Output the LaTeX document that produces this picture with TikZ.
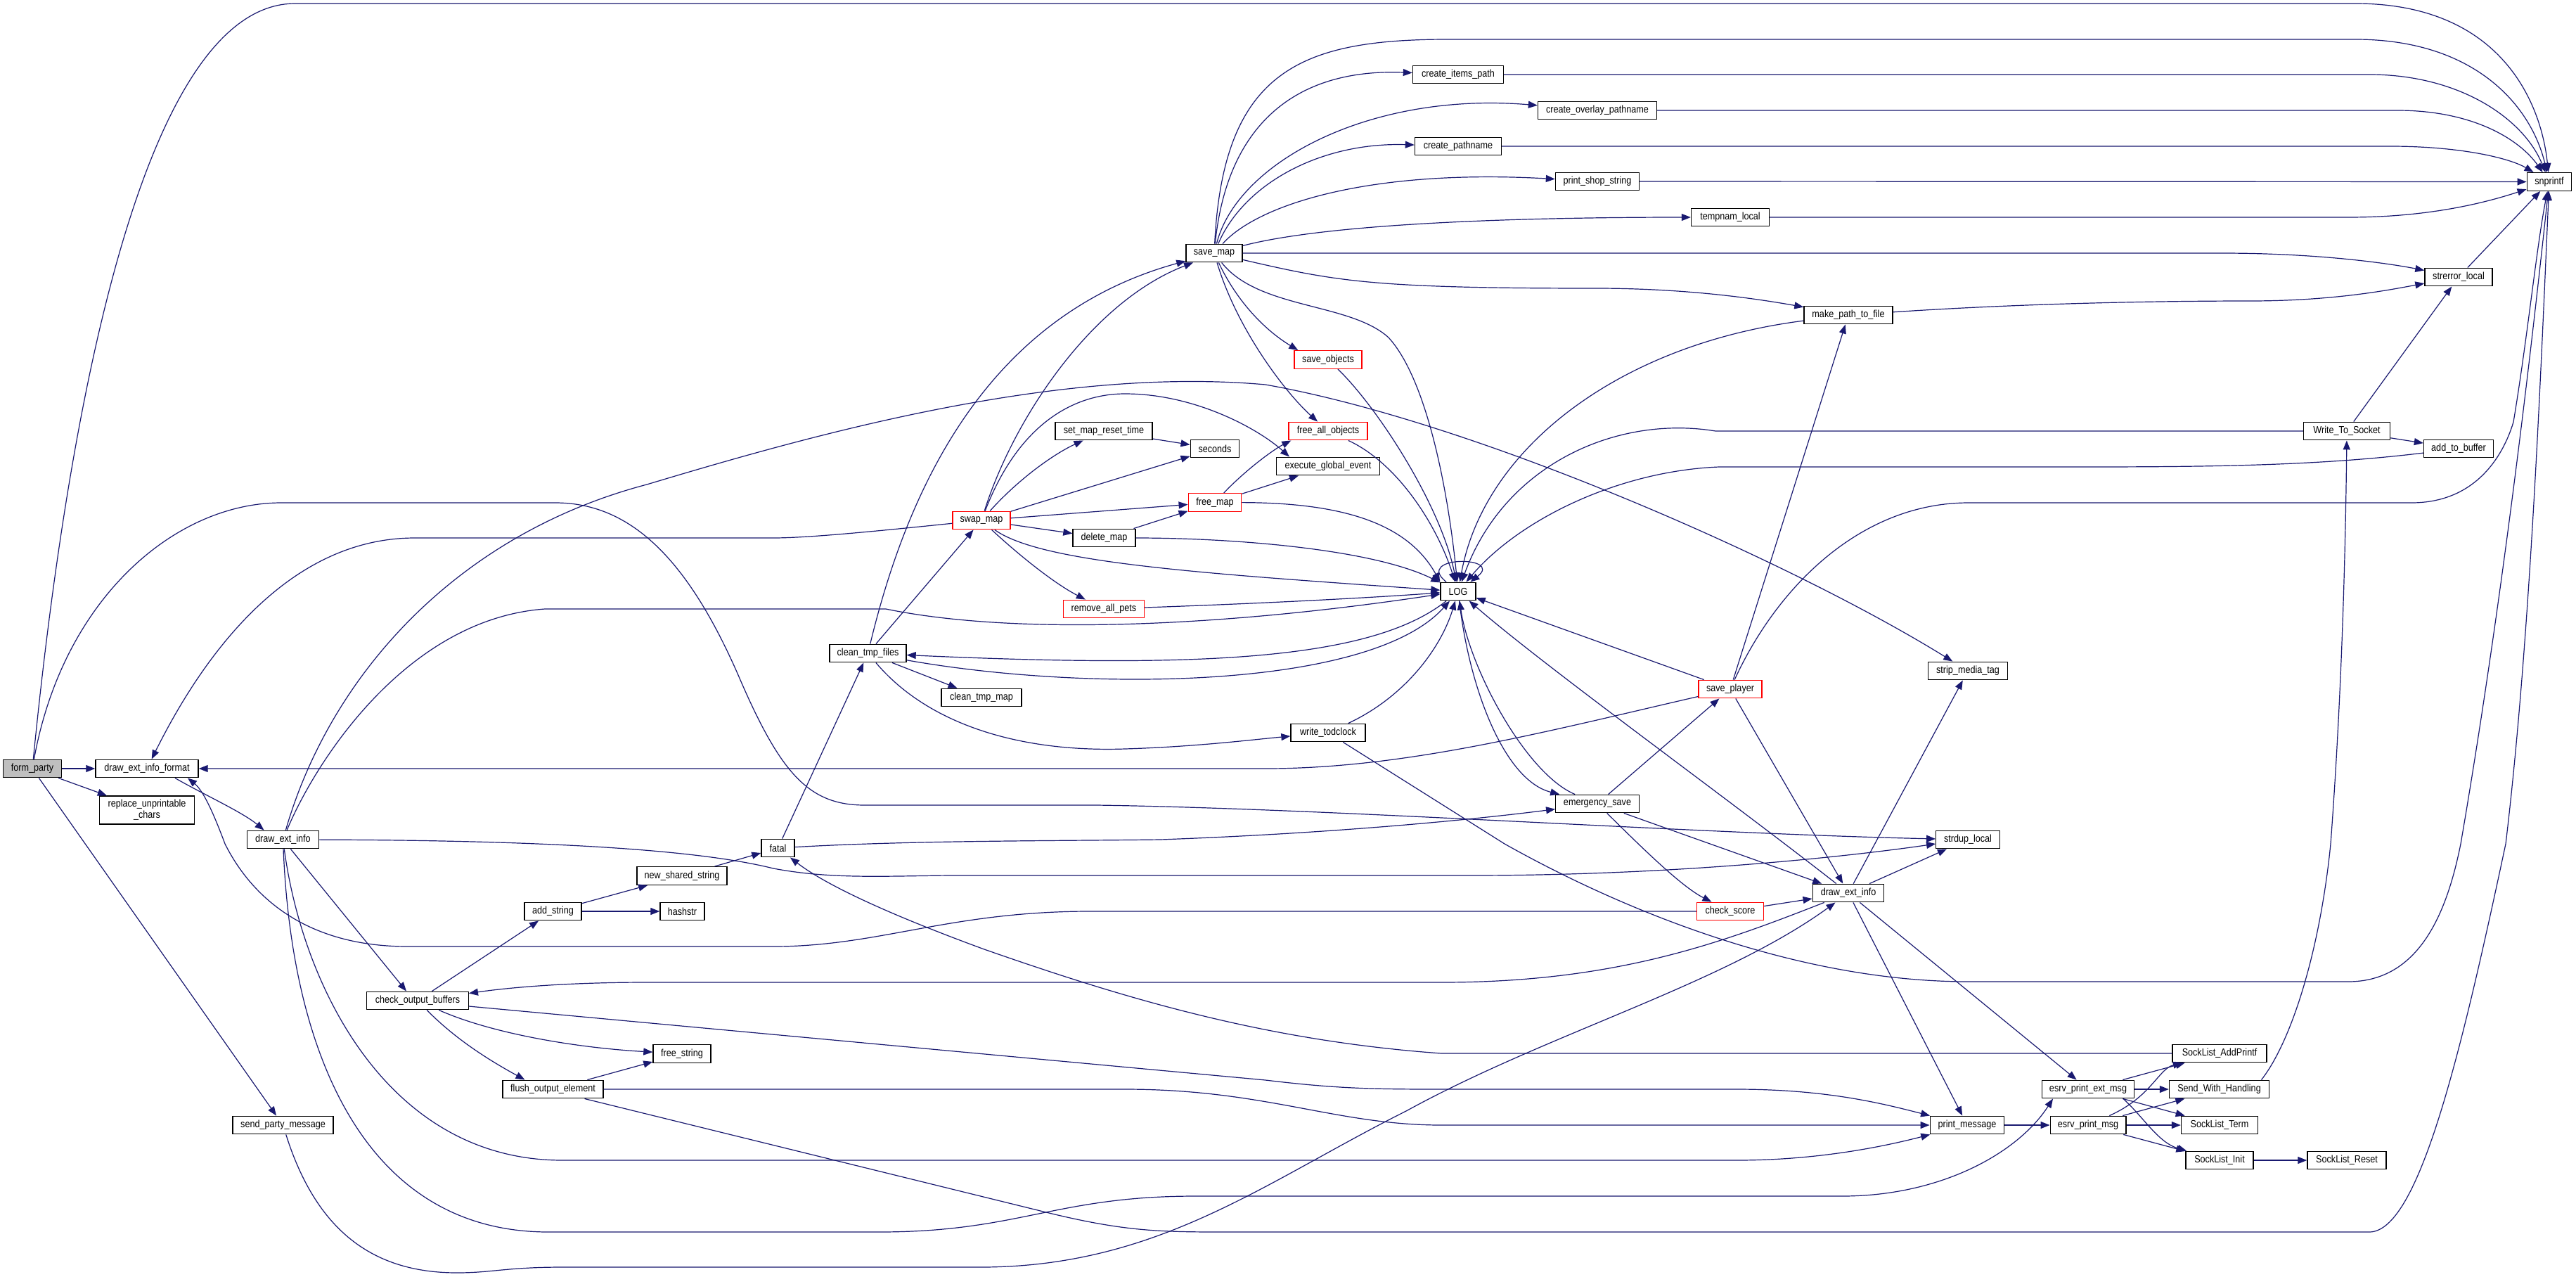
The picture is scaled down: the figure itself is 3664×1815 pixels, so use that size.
\documentclass[tikz,border=0pt]{standalone}
\usepackage{fontspec}
\usepackage{tikz}
\usetikzlibrary{arrows.meta}
\newfontfamily\dxfont{Liberation Sans}[FakeStretch=0.87]
\definecolor{edgeblue}{RGB}{25,25,112}
\definecolor{rootgray}{RGB}{191,191,191}

\begin{document}
\begin{tikzpicture}[
    x=1pt, y=-1pt,
    fn/.style={rectangle, draw=black, line width=1.4pt, fill=white, minimum height=25.5pt, inner sep=0pt, font=\dxfont\fontsize{14.5pt}{16pt}\selectfont},
    fnred/.style={fn, draw=red},
    fnroot/.style={fn, fill=rootgray},
    callto/.style={draw=edgeblue, line width=1.2pt, -{Triangle[length=13pt, width=10pt]}}
]
\path[use as bounding box, fill=white] (0,0) rectangle (3664,1815);

% Nodes
\node[fnroot, minimum width=83pt] (formparty) at (46,1093) {form\_party};
\node[fn, minimum width=146pt] (dxif) at (209,1093) {draw\_ext\_info\_format};
\node[fn, minimum width=135pt, minimum height=40pt, align=center] (replunp) at (209,1152) {replace\_unprintable\\\_chars};
\node[fn, minimum width=102pt] (dxileft) at (402.5,1194) {draw\_ext\_info};
\node[fn, minimum width=143pt] (sendparty) at (402.5,1600) {send\_party\_message};
\node[fn, minimum width=144.5pt] (checkout) at (594,1423) {check\_output\_buffers};
\node[fn, minimum width=81pt] (addstring) at (786.5,1296) {add\_string};
\node[fn, minimum width=143pt] (flushout) at (786.5,1549) {flush\_output\_element};
\node[fn, minimum width=128pt] (newshared) at (970,1245.5) {new\_shared\_string};
\node[fn, minimum width=63pt] (hashstr) at (970.5,1296) {hashstr};
\node[fn, minimum width=82pt] (freestring) at (970,1498.5) {free\_string};
\node[fn, minimum width=47pt] (fatal) at (1106.5,1206) {fatal};
\node[fn, minimum width=109pt] (cleantmp) at (1234.5,929) {clean\_tmp\_files};
\node[fn, minimum width=114pt] (cleanmap) at (1396,992) {clean\_tmp\_map};
\node[fnred, minimum width=82pt] (swapmap) at (1396,740) {swap\_map};
\node[fn, minimum width=138pt] (setreset) at (1570,613) {set\_map\_reset\_time};
\node[fn, minimum width=89pt] (deletemap) at (1570.5,765) {delete\_map};
\node[fnred, minimum width=114.6pt] (removepets) at (1570,866) {remove\_all\_pets};
\node[fn, minimum width=80pt] (savemap) at (1727,360) {save\_map};
\node[fn, minimum width=69.5pt] (seconds) at (1728,638) {seconds};
\node[fnred, minimum width=75.5pt] (freemap) at (1728,714.5) {free\_map};
\node[fnred, minimum width=112pt] (freeall) at (1889,613) {free\_all\_objects};
\node[fn, minimum width=146.5pt] (execglobal) at (1889,663) {execute\_global\_event};
\node[fnred, minimum width=96pt] (saveobjects) at (1889,511.5) {save\_objects};
\node[fn, minimum width=106pt] (writetod) at (1889,1042) {write\_todclock};
\node[fn, minimum width=50pt] (logf) at (2074,841) {LOG};
\node[fn, minimum width=129pt] (itemspath) at (2074,106) {create\_items\_path};
\node[fn, minimum width=123pt] (pathname) at (2074,208) {create\_pathname};
\node[fn, minimum width=169pt] (overlay) at (2272,157) {create\_overlay\_pathname};
\node[fn, minimum width=119pt] (shopstring) at (2272,258) {print\_shop\_string};
\node[fn, minimum width=118.5pt] (emergency) at (2272,1143) {emergency\_save};
\node[fn, minimum width=111pt] (tempnam) at (2461,309) {tempnam\_local};
\node[fnred, minimum width=90pt] (saveplayer) at (2461,980) {save\_player};
\node[fnred, minimum width=95pt] (checkscore) at (2461,1296) {check\_score};
\node[fn, minimum width=126pt] (makepath) at (2629,448) {make\_path\_to\_file};
\node[fn, minimum width=101.5pt] (dxiright) at (2629,1270) {draw\_ext\_info};
\node[fn, minimum width=113.5pt] (stripmedia) at (2799,954) {strip\_media\_tag};
\node[fn, minimum width=90.5pt] (strdup) at (2799,1194) {strdup\_local};
\node[fn, minimum width=105.5pt] (printmsg) at (2798,1600) {print\_message};
\node[fn, minimum width=131pt] (extmsg) at (2970,1549) {esrv\_print\_ext\_msg};
\node[fn, minimum width=107.6pt] (esrvmsg) at (2970,1600) {esrv\_print\_msg};
\node[fn, minimum width=134pt] (addprintf) at (3157,1498) {SockList\_AddPrintf};
\node[fn, minimum width=142pt] (sendhandling) at (3156.5,1549) {Send\_With\_Handling};
\node[fn, minimum width=109pt] (term) at (3157,1600) {SockList\_Term};
\node[fn, minimum width=96pt] (init) at (3157,1650) {SockList\_Init};
\node[fn, minimum width=112pt] (reset) at (3338,1650) {SockList\_Reset};
\node[fn, minimum width=123pt] (writesock) at (3338,613) {Write\_To\_Socket};
\node[fn, minimum width=99pt] (addbuffer) at (3497,638) {add\_to\_buffer};
\node[fn, minimum width=96pt] (strerror) at (3497,394) {strerror\_local};
\node[fn, minimum width=63.5pt] (snprintf) at (3626,258.5) {snprintf};

% Calls from form_party
\draw[callto] (formparty) .. controls (95,600) and (200,5) .. (420,5) -- (3350,5) .. controls (3560,5) and (3615,150) .. (snprintf);
\draw[callto] (formparty) -- (dxif);
\draw[callto] (formparty) -- (replunp);
\draw[callto] (formparty) -- (sendparty);
\draw[callto] (formparty) .. controls (90,850) and (250,715) .. (400,715) -- (790,715) .. controls (900,715) and (980,800) .. (1050,960) .. controls (1110,1100) and (1150,1145) .. (1230,1145) -- (1560,1145) .. controls (1900,1150) and (2400,1185) .. (strdup);

% Into draw_ext_info_format
\draw[callto] (swapmap) .. controls (1250,755) and (1150,765) .. (1100,765) -- (590,765) .. controls (400,765) and (280,950) .. (dxif);
\draw[callto] (saveplayer) .. controls (2200,1040) and (2000,1093) .. (1800,1093) -- (dxif);
\draw[callto] (checkscore) -- (1550,1296) .. controls (1350,1296) and (1250,1346) .. (1100,1346) -- (580,1346) .. controls (420,1346) and (350,1260) .. (320,1200) .. controls (305,1160) and (290,1125) .. ([xshift=58pt]dxif.south);
\draw[callto] ([xshift=40pt]dxif.south) .. controls (290,1130) and (345,1155) .. ([xshift=-27pt]dxileft.north);

% Calls from draw_ext_info (left)
\draw[callto] (dxileft) .. controls (470,960) and (650,760) .. (920,689) .. controls (1150,620) and (1500,520) .. (1800,547) .. controls (2100,600) and (2550,800) .. (stripmedia);
\draw[callto] (dxileft) .. controls (450,1080) and (580,880) .. (775,866) -- (1260,866) .. controls (1450,905) and (1750,890) .. (logf);
\draw[callto] (dxileft) .. controls (800,1195) and (1000,1210) .. (1100,1235) .. controls (1180,1250) and (1250,1246) .. (1350,1245) -- (2090,1245) .. controls (2400,1245) and (2650,1215) .. ([yshift=-6pt]strdup.west);
\draw[callto] (dxileft) -- ([xshift=-16pt]checkout.north);
\draw[callto] (dxileft) .. controls (430,1400) and (550,1650) .. (800,1650) -- (2470,1650) .. controls (2600,1650) and (2700,1625) .. (printmsg);
\draw[callto] (dxileft) .. controls (415,1500) and (520,1752) .. (780,1752) -- (1250,1752) .. controls (1450,1752) and (1500,1701) .. (1700,1701) -- (2620,1701) .. controls (2760,1701) and (2870,1640) .. ([xshift=-50pt]extmsg.south);

% check_output_buffers and friends
\draw[callto] (checkout) -- (addstring);
\draw[callto] (checkout) .. controls (650,1480) and (700,1510) .. ([xshift=-40pt]flushout.north);
\draw[callto] (checkout) .. controls (700,1470) and (820,1490) .. (freestring);
\draw[callto] ([yshift=-8pt]checkout.east) -- (1800,1536) .. controls (1900,1548) and (1950,1549) .. (2050,1549) -- (2470,1549) .. controls (2600,1549) and (2680,1570) .. (printmsg);
\draw[callto] (flushout) -- (freestring);
\draw[callto] (flushout) -- (1600,1549) .. controls (1800,1549) and (1900,1600) .. (2050,1600) -- (printmsg);
\draw[callto] ([xshift=45pt]flushout.south) -- (1480,1722) .. controls (1600,1752) and (1650,1752) .. (1750,1752) -- (3370,1752) .. controls (3440,1752) and (3500,1500) .. (3564,1200) .. controls (3600,900) and (3615,500) .. (snprintf);
\draw[callto] (addstring) -- (newshared);
\draw[callto] (addstring) -- (hashstr);
\draw[callto] (newshared) -- (fatal);

% fatal
\draw[callto] (fatal) -- (cleantmp);
\draw[callto] (fatal) .. controls (1300,1195) and (1500,1196) .. (1650,1194) .. controls (1900,1185) and (2100,1165) .. (emergency);
\draw[callto] (addprintf) -- (2050,1498) .. controls (1800,1480) and (1600,1420) .. (1400,1350) .. controls (1250,1295) and (1170,1255) .. (fatal);

% clean_tmp_files
\draw[callto] (cleantmp) .. controls (1290,700) and (1400,450) .. (savemap);
\draw[callto] (cleantmp) -- (swapmap);
\draw[callto] (cleantmp) -- (cleanmap);
\draw[callto] (cleantmp) .. controls (1320,1030) and (1450,1070) .. (1600,1065) .. controls (1700,1062) and (1780,1052) .. (writetod);
\draw[callto] (cleantmp) .. controls (1550,985) and (1950,980) .. (logf);
\draw[callto] (logf) .. controls (1950,940) and (1700,950) .. (cleantmp);

% swap_map
\draw[callto] (swapmap) .. controls (1440,600) and (1550,430) .. ([xshift=-30pt]savemap.south);
\draw[callto] (swapmap) .. controls (1450,600) and (1530,560) .. (1600,560) .. controls (1700,560) and (1790,610) .. ([xshift=-55pt]execglobal.north);
\draw[callto] (swapmap) .. controls (1450,680) and (1500,645) .. (setreset);
\draw[callto] (swapmap) -- (seconds);
\draw[callto] (swapmap) -- (freemap);
\draw[callto] (swapmap) -- (deletemap);
\draw[callto] (swapmap) .. controls (1450,790) and (1500,830) .. (removepets);
\draw[callto] (swapmap) .. controls (1480,800) and (1700,815) .. (logf);
\draw[callto] (setreset) -- (seconds);
\draw[callto] (deletemap) -- (freemap);
\draw[callto] (deletemap) .. controls (1750,765) and (1950,780) .. (logf);
\draw[callto] (freemap) .. controls (1770,670) and (1810,640) .. ([xshift=4pt]freeall.south west);
\draw[callto] (freemap) -- (execglobal);
\draw[callto] (freemap) .. controls (1900,715) and (2000,740) .. (logf.north west);
\draw[callto] (removepets) .. controls (1800,858) and (1950,850) .. (logf);

% save_map
\draw[callto] (savemap) .. controls (1740,100) and (1850,56) .. (2060,56) -- (3350,56) .. controls (3520,56) and (3600,150) .. (snprintf);
\draw[callto] (savemap) .. controls (1745,180) and (1840,97) .. (itemspath);
\draw[callto] (savemap) .. controls (1760,230) and (1950,130) .. (overlay);
\draw[callto] (savemap) .. controls (1770,260) and (1880,202) .. (pathname);
\draw[callto] (savemap) .. controls (1790,290) and (1950,240) .. (shopstring);
\draw[callto] (savemap) .. controls (1900,315) and (2200,309) .. (tempnam);
\draw[callto] (savemap) -- (3160,360) .. controls (3300,360) and (3400,375) .. (strerror);
\draw[callto] (savemap) .. controls (1900,400) and (1950,410) .. (2270,410) .. controls (2400,410) and (2500,425) .. (makepath);
\draw[callto] (savemap) .. controls (1790,440) and (1920,430) .. (1975,480) .. controls (2030,540) and (2060,700) .. (logf);
\draw[callto] (savemap) .. controls (1760,430) and (1800,470) .. ([xshift=6pt]saveobjects.north west);
\draw[callto] (savemap) .. controls (1760,470) and (1830,560) .. (freeall);
\draw[callto] (saveobjects) .. controls (1960,580) and (2050,720) .. (logf);
\draw[callto] (freeall) .. controls (1990,660) and (2045,750) .. (logf);

% into snprintf
\draw[callto] (itemspath) -- (3370,106) .. controls (3500,106) and (3590,170) .. (snprintf);
\draw[callto] (overlay) -- (3410,157) .. controls (3520,157) and (3585,200) .. (snprintf);
\draw[callto] (pathname) -- (3400,208) .. controls (3500,208) and (3570,225) .. (snprintf);
\draw[callto] (shopstring) -- (snprintf);
\draw[callto] (tempnam) -- (3340,309) .. controls (3450,309) and (3530,290) .. (snprintf);
\draw[callto] (strerror) -- (snprintf);

% LOG
\draw[callto] (logf) .. controls (2010,790) and (2140,790) .. (logf);
\draw[callto] (makepath) .. controls (2300,490) and (2110,640) .. (logf);
\draw[callto] (writesock) -- (2440,613) .. controls (2300,590) and (2140,660) .. (logf);
\draw[callto] (addbuffer) .. controls (3300,662) and (3150,664) .. (2960,664) -- (2445,664) .. controls (2300,670) and (2160,740) .. (logf);
\draw[callto] (saveplayer) -- (logf);
\draw[callto] (dxiright) .. controls (2450,1130) and (2200,950) .. (logf);
\draw[callto] (emergency) .. controls (2170,1100) and (2090,950) .. (logf);
\draw[callto] (logf) .. controls (2090,980) and (2140,1110) .. (emergency);
\draw[callto] (writetod) .. controls (2000,990) and (2050,920) .. (logf);
\draw[callto] (writetod) -- (2140,1200) .. controls (2300,1290) and (2550,1396) .. (2800,1396) -- (3340,1396) .. controls (3440,1396) and (3480,1300) .. (3500,1200) .. controls (3560,850) and (3600,500) .. (snprintf);

% save_player, emergency_save, check_score
\draw[callto] (saveplayer) .. controls (2530,830) and (2650,715) .. (2800,715) -- (3430,715) .. controls (3520,715) and (3560,650) .. (3575,600) .. controls (3595,480) and (3608,350) .. (snprintf);
\draw[callto] (saveplayer) -- (makepath);
\draw[callto] (saveplayer) -- (dxiright);
\draw[callto] (emergency) -- (saveplayer);
\draw[callto] (emergency) .. controls (2330,1200) and (2390,1260) .. (checkscore);
\draw[callto] (emergency) -- (dxiright);
\draw[callto] (checkscore) -- (dxiright);

% draw_ext_info (right)
\draw[callto] (dxiright) -- (stripmedia);
\draw[callto] (dxiright) -- (strdup);
\draw[callto] (dxiright) .. controls (2450,1340) and (2300,1397) .. (2050,1397) -- (920,1397) .. controls (800,1397) and (720,1405) .. (checkout);
\draw[callto] (dxiright) -- (extmsg);
\draw[callto] (dxiright) -- (printmsg);
\draw[callto] (sendparty) .. controls (450,1750) and (530,1810) .. (650,1810) .. controls (700,1810) and (720,1802) .. (800,1802) -- (1400,1802) .. controls (1650,1800) and (1800,1680) .. (2000,1580) .. controls (2200,1470) and (2450,1400) .. (dxiright);

% message output
\draw[callto] (printmsg) -- (esrvmsg);
\draw[callto] (esrvmsg) -- (term);
\draw[callto] (esrvmsg) -- (sendhandling);
\draw[callto] (esrvmsg) .. controls (3060,1560) and (3070,1520) .. (addprintf);
\draw[callto] (esrvmsg) -- (init);
\draw[callto] (extmsg) -- (addprintf);
\draw[callto] (extmsg) -- (sendhandling);
\draw[callto] (extmsg) -- (term);
\draw[callto] ([xshift=50pt]extmsg.south) .. controls (3050,1590) and (3070,1625) .. (init);
\draw[callto] (init) -- (reset);
\draw[callto] ([xshift=60pt]sendhandling.north) .. controls (3260,1480) and (3300,1350) .. (3315,1200) .. controls (3330,1000) and (3336,800) .. (writesock);
\draw[callto] (writesock) -- (addbuffer);
\draw[callto] (writesock) -- (strerror);
\draw[callto] (makepath) .. controls (2900,430) and (3100,428) .. (3200,428) .. controls (3320,428) and (3400,412) .. (strerror);

\end{tikzpicture}
\end{document}
